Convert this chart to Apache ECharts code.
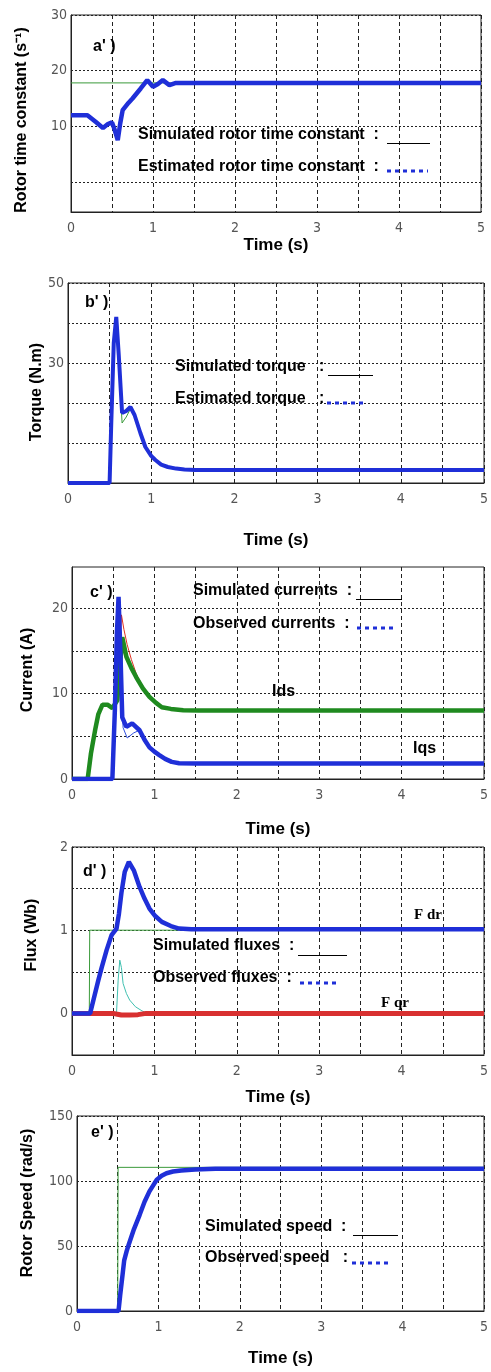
<!DOCTYPE html>
<html>
<head>
<meta charset="utf-8">
<script src="https://cdn.jsdelivr.net/npm/echarts@6/dist/echarts.min.js"></script>
<style>
  html, body { margin: 0; padding: 0; background: #fff; }
  #chart { width: 491px; height: 1372px; }
</style>
</head>
<body>
<div id="chart"></div>
<script>
  // a') rotor time constant
  let tauT = [0, 0.2, 0.3, 0.39, 0.45, 0.5, 0.53, 0.57, 0.6, 0.63, 0.7, 0.75, 0.85, 0.93, 1.0, 1.06, 1.12, 1.2, 1.28, 1.5, 5]
  let tauEst = [12.0, 12.0, 10.8, 9.7, 10.4, 10.7, 9.5, 7.5, 10.5, 12.9, 14.2, 15.0, 16.8, 18.3, 17.1, 17.6, 18.3, 17.4, 17.8, 17.8, 17.8]
  let tauSimT = [0, 5]
  let tauSim = [17.8, 17.8]

  // b') torque
  let torqueT = [0, 0.5, 0.52, 0.55, 0.58, 0.61, 0.65, 0.7, 0.75, 0.8, 0.87, 0.93, 1.0, 1.05, 1.12, 1.2, 1.3, 1.4, 1.53, 5]
  let torqueEst = [0, 0, 15, 35, 41.5, 32, 17.5, 18, 19, 17, 12.5, 9, 6.8, 5.75, 4.6, 4, 3.6, 3.4, 3.25, 3.25]
  let torqueSim = [0, 0, 14, 34, 40, 30, 15, 16.5, 18.5, 16.8, 12.3, 9, 6.8, 5.75, 4.6, 4, 3.6, 3.4, 3.25, 3.25]

  // c') currents
  let idsT = [0, 0.19, 0.23, 0.28, 0.32, 0.37, 0.43, 0.49, 0.55, 0.58, 0.61, 0.66, 0.72, 0.78, 0.86, 0.94, 1.02, 1.09, 1.2, 1.35, 1.54, 5]
  let idsObs = [0, 0, 3.0, 5.7, 7.6, 8.7, 8.7, 8.3, 9.2, 13, 16.6, 14.3, 13.0, 11.9, 10.6, 9.6, 8.9, 8.4, 8.2, 8.05, 8.0, 8.0]
  let idsSimT = [0, 0.19, 0.23, 0.28, 0.32, 0.37, 0.43, 0.49, 0.55, 0.58, 0.6, 0.63, 0.67, 0.72, 0.78, 0.86, 0.94, 1.02, 1.09, 1.2, 1.35, 1.54, 5]
  let idsSim = [0, 0, 3.0, 5.7, 7.6, 8.7, 8.7, 8.3, 9.2, 15, 19.2, 17.5, 15.7, 14.0, 12.3, 10.8, 9.6, 8.9, 8.4, 8.2, 8.05, 8.0, 8.0]
  let iqsT = [0, 0.49, 0.52, 0.545, 0.565, 0.59, 0.61, 0.66, 0.73, 0.82, 0.88, 0.94, 1.0, 1.06, 1.13, 1.21, 1.3, 1.5, 5]
  let iqsObs = [0, 0, 8, 17, 21.3, 14, 7.2, 6.1, 6.5, 5.7, 4.6, 3.7, 3.2, 2.8, 2.35, 2.0, 1.85, 1.8, 1.8]
  let iqsSimT = [0, 0.49, 0.52, 0.545, 0.565, 0.59, 0.62, 0.67, 0.75, 0.82, 0.88, 0.94, 1.0, 1.06, 1.13, 1.21, 1.3, 1.5, 5]
  let iqsSim = [0, 0, 8, 17, 21, 13, 6, 4.8, 5.4, 5.7, 4.6, 3.7, 3.2, 2.8, 2.35, 2.0, 1.85, 1.8, 1.8]

  // d') fluxes
  let fdrT = [0, 0.22, 0.27, 0.32, 0.36, 0.42, 0.48, 0.54, 0.57, 0.6, 0.64, 0.69, 0.75, 0.82, 0.88, 0.94, 1.01, 1.09, 1.2, 1.3, 1.45, 5]
  let fdrObs = [0, 0, 0.2, 0.4, 0.55, 0.76, 0.94, 1.02, 1.2, 1.45, 1.7, 1.82, 1.72, 1.52, 1.38, 1.26, 1.17, 1.1, 1.05, 1.02, 1.01, 1.01]
  let fdrSimT = [0, 0.21, 0.215, 5]
  let fdrSim = [0, 0, 1, 1]
  let fqrT = [0, 0.5, 0.55, 0.6, 0.7, 0.8, 0.9, 5]
  let fqrObs = [0, 0, -0.01, -0.02, -0.02, -0.015, 0, 0]
  let fqrSimT = [0, 0.54, 0.56, 0.58, 0.6, 0.62, 0.66, 0.7, 0.77, 0.85, 0.92, 5]
  let fqrSim = [0, 0, 0.4, 0.64, 0.55, 0.36, 0.24, 0.16, 0.08, 0.03, 0, 0]

  // e') rotor speed
  let spdT = [0, 0.51, 0.53, 0.56, 0.58, 0.61, 0.64, 0.7, 0.77, 0.83, 0.89, 0.94, 0.98, 1.04, 1.1, 1.18, 1.28, 1.45, 1.7, 5]
  let spdObs = [0, 0, 12, 28, 39, 46, 52, 63, 74, 84, 92, 97, 101, 104, 106, 107.3, 108, 108.8, 109.5, 109.5]
  let spdSimT = [0, 0.5, 0.505, 5]
  let spdSim = [0, 0, 110.5, 110.5]

  // axis ticks / labels
  let xTicks = [0, 0.5, 1, 1.5, 2, 2.5, 3, 3.5, 4, 4.5, 5]
  let xLabels = [0, 1, 2, 3, 4, 5]
  let yNames = ['Rotor time constant (s\u207B\u00B9)', 'Torque (N.m)', 'Current (A)', 'Flux (Wb)', 'Rotor Speed (rad/s)']
  let yRanges = [[-5.4, 30], [0, 50], [0, 24.8], [-0.5, 2], [0, 150]]
  let yTicks = [[0, 10, 20, 30], [0, 10, 20, 30, 40, 50], [0, 5, 10, 15, 20], [-0.5, 0, 0.5, 1, 1.5, 2], [0, 50, 100, 150]]
  let yLabels = [[10, 20, 30], [30, 50], [0, 10, 20], [0, 1, 2], [0, 50, 100, 150]]

  // layout: plot box, x-name gap, y-name centre
  let grids = [
    { left: 71, top: 15, width: 410, height: 197, xGap: 25, nameX: 22, nameY: 120 },
    { left: 68, top: 283, width: 416, height: 200, xGap: 49, nameX: 37, nameY: 392 },
    { left: 72, top: 567, width: 418, height: 212, xGap: 42, nameX: 28, nameY: 670 },
    { left: 72, top: 847, width: 418, height: 208, xGap: 34, nameX: 32, nameY: 935 },
    { left: 77, top: 1116, width: 411, height: 195, xGap: 39, nameX: 28, nameY: 1203 }
  ]

  let BLUE = '#1f2fd8'
  let tickFont = '"Liberation Sans Narrow", "DejaVu Sans Condensed", sans-serif'
  let boldFont = '"Liberation Sans", Arial, sans-serif'

  function pairs (t, v) {
    return t.map((x, i) => [x, v[i]])
  }

  function line (idx, t, v, color, width, z) {
    return {
      type: 'line',
      xAxisIndex: idx,
      yAxisIndex: idx,
      data: pairs(t, v),
      showSymbol: false,
      animation: false,
      z: z || 2,
      lineStyle: { color: color, width: width }
    }
  }

  function txt (x, y, text, size, family) {
    return {
      type: 'text',
      x: x,
      y: y,
      z: 100,
      style: {
        text: text,
        font: 'bold ' + (size || 16) + 'px ' + (family || boldFont),
        fill: '#000',
        verticalAlign: 'middle'
      }
    }
  }

  function vtxt (x, y, text) {
    return {
      type: 'text',
      x: x,
      y: y,
      rotation: Math.PI / 2,
      z: 100,
      style: {
        text: text,
        font: 'bold 16px ' + boldFont,
        fill: '#000',
        align: 'center',
        verticalAlign: 'middle'
      }
    }
  }

  function solidSample (x1, x2, y) {
    return { type: 'line', z: 100, shape: { x1: x1, y1: y + 0.5, x2: x2, y2: y + 0.5 }, style: { stroke: '#000', lineWidth: 1.2 } }
  }

  function dotSample (x1, x2, y) {
    return { type: 'line', z: 100, shape: { x1: x1, y1: y, x2: x2, y2: y }, style: { stroke: BLUE, lineWidth: 3, lineDash: [4, 4] } }
  }

  let option = {
    backgroundColor: '#fff',
    animation: false,
    grid: grids.map(g => ({
      left: g.left, top: g.top, width: g.width, height: g.height,
      show: true, borderColor: '#222', borderWidth: 1, backgroundColor: '#fff'
    })),
    xAxis: grids.map((g, i) => ({
      type: 'value',
      gridIndex: i,
      min: 0,
      max: 5,
      name: 'Time (s)',
      nameLocation: 'middle',
      nameGap: g.xGap,
      nameTextStyle: { fontFamily: boldFont, fontWeight: 'bold', fontSize: 17, color: '#000' },
      axisLine: { onZero: false, lineStyle: { color: '#222' } },
      axisTick: { show: false, customValues: xTicks },
      axisLabel: { customValues: xLabels, fontFamily: tickFont, fontSize: 14, color: '#555', margin: 9 },
      splitLine: { show: true, lineStyle: { color: '#222', type: [4, 3], width: 1 } }
    })),
    yAxis: grids.map((g, i) => ({
      type: 'value',
      gridIndex: i,
      min: yRanges[i][0],
      max: yRanges[i][1],
      axisLine: { onZero: false, lineStyle: { color: '#222' } },
      axisTick: { show: false, customValues: yTicks[i] },
      axisLabel: { customValues: yLabels[i], fontFamily: tickFont, fontSize: 14, color: '#555', margin: 4 },
      splitLine: { show: true, lineStyle: { color: '#222', type: [2, 2], width: 1 } }
    })),
    series: [
      line(0, tauSimT, tauSim, '#3a9a3a', 1),
      line(0, tauT, tauEst, BLUE, 4.5, 3),

      line(1, torqueT, torqueSim, '#3a9a3a', 1),
      line(1, torqueT, torqueEst, BLUE, 4, 3),

      line(2, idsSimT, idsSim, '#e03020', 1),
      line(2, idsT, idsObs, '#1f8a1f', 4.5, 3),
      line(2, iqsSimT, iqsSim, '#3050e0', 1),
      line(2, iqsT, iqsObs, BLUE, 4.5, 3),

      line(3, fqrSimT, fqrSim, '#40c0b0', 1),
      line(3, fqrT, fqrObs, '#d83030', 5, 3),
      line(3, fdrSimT, fdrSim, '#3a9a3a', 1),
      line(3, fdrT, fdrObs, BLUE, 4.5, 3),

      line(4, spdSimT, spdSim, '#3a9a3a', 1),
      line(4, spdT, spdObs, BLUE, 4.5, 3)
    ],
    graphic: grids.map((g, i) => vtxt(g.nameX, g.nameY, yNames[i])).concat([
      txt(93, 47, "a' )"),
      txt(138, 135, 'Simulated rotor time constant  :'),
      solidSample(387, 430, 143),
      txt(138, 167, 'Estimated rotor time constant  :'),
      dotSample(387, 428, 171),

      txt(85, 303, "b' )"),
      txt(175, 367, 'Simulated torque   :'),
      solidSample(328, 373, 375),
      txt(175, 399, 'Estimated torque   :'),
      dotSample(327, 367, 403),

      txt(90, 593, "c' )"),
      txt(193, 591, 'Simulated currents  :'),
      solidSample(356, 402, 599),
      txt(193, 624, 'Observed currents  :'),
      dotSample(357, 397, 628),
      txt(272, 692, 'Ids'),
      txt(413, 749, 'Iqs'),

      txt(83, 872, "d' )"),
      txt(153, 946, 'Simulated fluxes  :'),
      solidSample(298, 347, 955),
      txt(153, 978, 'Observed fluxes  :'),
      dotSample(300, 340, 983),
      txt(414, 915, 'F dr', 15, '"Liberation Serif", serif'),
      txt(381, 1003, 'F qr', 15, '"Liberation Serif", serif'),

      txt(91, 1133, "e' )"),
      txt(205, 1227, 'Simulated speed  :'),
      solidSample(353, 398, 1235),
      txt(205, 1258, 'Observed speed   :'),
      dotSample(352, 392, 1263)
    ])
  }

  let chart = echarts.init(document.getElementById('chart'))
  chart.setOption(option)
</script>
</body>
</html>
